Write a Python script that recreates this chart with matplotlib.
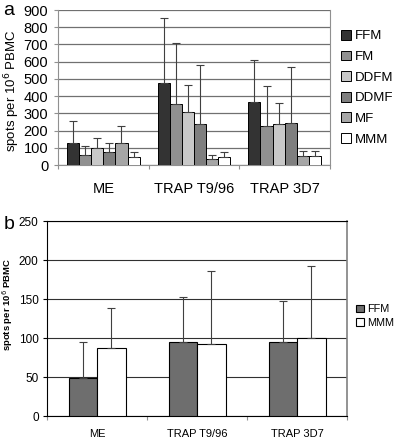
import matplotlib
matplotlib.use("Agg")
import matplotlib.pyplot as plt
import numpy as np

plt.rcParams['font.family'] = ['Liberation Sans', 'DejaVu Sans']

# panel a data
groups = ['ME', 'TRAP T9/96', 'TRAP 3D7']
series_a = ['FFM', 'FM', 'DDFM', 'DDMF', 'MF', 'MMM']
vals_a = [
    [130, 476, 367],   # FFM
    [56, 355, 225],    # FM
    [98, 305, 240],    # DDFM
    [75, 240, 246],    # DDMF
    [125, 33, 52],     # MF
    [46, 44, 52],      # MMM
]
tops_a = [
    [255, 854, 608],
    [111, 708, 457],
    [155, 463, 362],
    [129, 580, 570],
    [225, 58, 84],
    [77, 75, 84],
]
colors_a = ['#333333', '#909090', '#c8c8c8', '#7f7f7f', '#a6a6a6', '#ffffff']

# panel b data
series_b = ['FFM', 'MMM']
vals_b = [
    [49, 95, 95],
    [87, 92, 100],
]
tops_b = [
    [95, 152, 147],
    [139, 186, 192],
]
colors_b = ['#6e6e6e', '#ffffff']

fig = plt.figure(figsize=(4.0, 4.37), dpi=100)

# ---- panel a
ax = fig.add_axes([0.1450, 0.6224, 0.6800, 0.3547])
x = np.arange(len(groups))
w = 0.8 / len(series_a)
for i, name in enumerate(series_a):
    pos = x - 0.4 + w * (i + 0.5)
    v = np.array(vals_a[i])
    t = np.array(tops_a[i])
    ax.bar(pos, v, w, color=colors_a[i], edgecolor='black', linewidth=0.7,
           label=name, zorder=3)
    ax.errorbar(pos, v, yerr=[np.zeros_like(v), t - v], fmt='none',
                ecolor='#404040', elinewidth=0.8, capsize=3, capthick=0.8, zorder=4)
ax.set_xlim(-0.5, 2.5)
ax.set_ylim(0, 900)
ax.set_yticks(range(0, 901, 100))
ax.yaxis.grid(True, color='#707070', linewidth=0.9, zorder=0)
ax.set_xticks([-0.5, 0.5, 1.5, 2.5])
ax.set_xticklabels([])
ax.tick_params(axis='x', which='major', length=3, color='#909090')
ax.set_xticks(x, minor=True)
ax.set_xticklabels(groups, minor=True, fontsize=10.5)
ax.tick_params(axis='x', which='minor', length=0, pad=12)
ax.tick_params(axis='y', length=3, color='#909090', labelsize=10.5, pad=4)
for s in ['left', 'bottom', 'right']:
    ax.spines[s].set_color('#909090')
ax.spines['top'].set_visible(False)
ax.set_ylabel('spots per 10$^{6}$ PBMC', fontsize=9.5)
ax.yaxis.set_label_coords(-0.132, 0.48)
ax.legend(loc='upper left', bbox_to_anchor=(341 / 400, 1 - 30 / 437),
          bbox_transform=fig.transFigure, frameon=False,
          fontsize=9.5, handlelength=0.75, handleheight=0.75, handletextpad=0.3,
          labelspacing=0.62, borderaxespad=0, borderpad=0)
fig.text(0.008, 0.995, 'a', fontsize=14, va='top')

# ---- panel b
bx = fig.add_axes([0.1175, 0.048, 0.75, 0.4462])
wb = 0.285
for i, name in enumerate(series_b):
    pos = x - wb + wb * (i + 0.5)
    v = np.array(vals_b[i])
    t = np.array(tops_b[i])
    bx.bar(pos, v, wb, color=colors_b[i], edgecolor='black', linewidth=0.8,
           label=name, zorder=3)
    bx.errorbar(pos, v, yerr=[np.zeros_like(v), t - v], fmt='none',
                ecolor='#404040', elinewidth=0.8, capsize=3, capthick=0.8, zorder=4)
bx.set_xlim(-0.5, 2.5)
bx.set_ylim(0, 250)
bx.set_yticks(range(0, 251, 50))
bx.yaxis.grid(True, color='#303030', linewidth=0.8, zorder=0)
bx.set_xticks([-0.5, 0.5, 1.5, 2.5])
bx.set_xticklabels([])
bx.tick_params(axis='x', which='major', length=3, color='#909090')
bx.set_xticks(x, minor=True)
bx.set_xticklabels(groups, minor=True, fontsize=8)
bx.tick_params(axis='x', which='minor', length=0, pad=9)
bx.tick_params(axis='y', length=3, labelsize=8.5, pad=3)
bx.spines['right'].set_color('#808080')
bx.spines['right'].set_linewidth(1.2)
bx.set_ylabel('spots per 10$^{6}$ PBMC', fontsize=6.8, fontweight='bold')
bx.yaxis.set_label_coords(-0.108, 0.57)
bx.legend(loc='center left', bbox_to_anchor=(356 / 400, 1 - 316 / 437),
          bbox_transform=fig.transFigure, frameon=False,
          fontsize=7.8, handlelength=0.7, handleheight=0.7, handletextpad=0.3,
          labelspacing=0.3, borderaxespad=0, borderpad=0)
fig.text(0.008, 0.505, 'b', fontsize=14, va='top')

fig.savefig('out.png', dpi=100)
